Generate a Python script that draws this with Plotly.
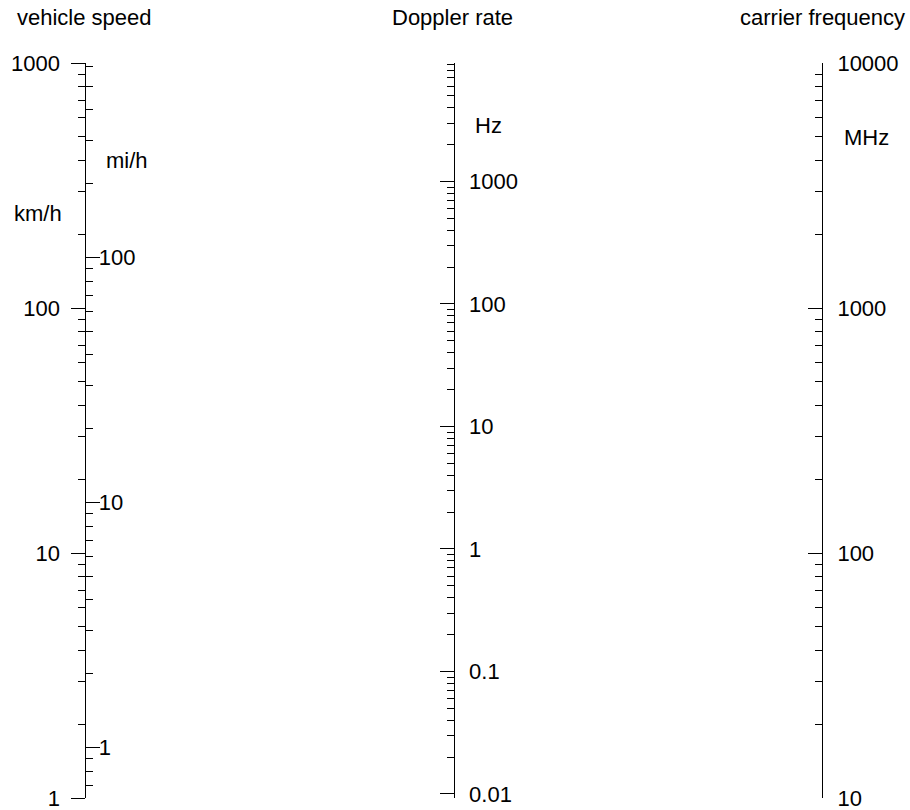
import numpy as np
import plotly.graph_objects as go

# ---- data (scales of the nomogram) ----
speed_kmh_range = [1, 1000]          # km/h
speed_kmh_ticks = [1, 10, 100, 1000]
speed_mph_ticks = [1, 10, 100]
carrier_range = [10, 10000]          # MHz
carrier_ticks = [10, 100, 1000, 10000]
doppler_ticks = [0.01, 0.1, 1, 10, 100, 1000]
KMH_PER_MPH = 1.609344
C_LIGHT = 299792458.0

# derived doppler range: f_d = v * f / c  (v in m/s, f in Hz)
dop_lo = speed_kmh_range[0] / 3.6 * carrier_range[0] * 1e6 / C_LIGHT
dop_hi = speed_kmh_range[1] / 3.6 * carrier_range[1] * 1e6 / C_LIGHT


def minors(lo, hi):
    out = []
    for e in range(int(np.floor(np.log10(lo))) - 1, int(np.ceil(np.log10(hi))) + 1):
        for m in range(2, 10):
            v = m * 10.0 ** e
            if lo <= v <= hi:
                out.append(v)
    return out


W, H = 910, 810
TOP_PX, BOT_PX = 63, 798      # pixel rows of the axis ends
T = TOP_PX
B = H - BOT_PX
FONT = dict(family="Liberation Sans, Arial, sans-serif", size=22, color="black")


def px(xp):
    return xp / W


def py(yp):
    return (BOT_PX - yp) / (BOT_PX - TOP_PX)


x_speed = px(85.3)
x_carr = px(822)
x_dop = (x_speed + x_carr) / 2

fig = go.Figure()
# invisible anchor traces
fig.add_trace(go.Scatter(x=[0, 1], y=speed_kmh_range, yaxis="y", mode="markers",
                         marker=dict(opacity=0), hoverinfo="skip", showlegend=False))
fig.add_trace(go.Scatter(x=[0, 1], y=[v / KMH_PER_MPH for v in speed_kmh_range], yaxis="y2",
                         mode="markers", marker=dict(opacity=0), hoverinfo="skip", showlegend=False))
fig.add_trace(go.Scatter(x=[0, 1], y=[dop_lo, dop_hi], yaxis="y3", mode="markers",
                         marker=dict(opacity=0), hoverinfo="skip", showlegend=False))
fig.add_trace(go.Scatter(x=[0, 1], y=carrier_range, yaxis="y4", mode="markers",
                         marker=dict(opacity=0), hoverinfo="skip", showlegend=False))

common = dict(type="log", showgrid=False, zeroline=False, tickfont=FONT,
              tickcolor="black", tickwidth=1, fixedrange=True,
              ticklabeloverflow="allow")

mph_lo = speed_kmh_range[0] / KMH_PER_MPH
mph_hi = speed_kmh_range[1] / KMH_PER_MPH

fig.update_layout(
    width=W, height=H,
    margin=dict(l=0, r=0, t=T, b=B),
    paper_bgcolor="white", plot_bgcolor="white",
    showlegend=False,
    xaxis=dict(visible=False, range=[0, 1], fixedrange=True),
    yaxis=dict(**common, anchor="free", position=x_speed, side="left",
               range=[np.log10(speed_kmh_range[0]), np.log10(speed_kmh_range[1])],
               showline=True, linecolor="black", linewidth=1,
               ticks="outside", ticklen=14, tickmode="array",
               tickvals=speed_kmh_ticks, ticktext=[str(v) for v in speed_kmh_ticks],
               ticklabelstandoff=7,
               minor=dict(ticks="outside", ticklen=7, tickcolor="black", tickwidth=1,
                          tickmode="array", tickvals=minors(*speed_kmh_range))),
    yaxis2=dict(**common, anchor="free", position=x_speed, side="right", overlaying="y",
                range=[np.log10(mph_lo), np.log10(mph_hi)],
                showline=False,
                ticks="outside", ticklen=14, tickmode="array",
                tickvals=speed_mph_ticks, ticktext=[str(v) for v in speed_mph_ticks],
                ticklabelstandoff=-6,
                minor=dict(ticks="outside", ticklen=7, tickcolor="black", tickwidth=1,
                           tickmode="array", tickvals=minors(mph_lo, mph_hi))),
    yaxis3=dict(**common, anchor="free", position=x_dop, side="right", overlaying="y",
                range=[np.log10(dop_lo), np.log10(dop_hi)],
                showline=True, linecolor="black", linewidth=1,
                ticks="inside", ticklen=14, tickmode="array",
                tickvals=doppler_ticks, ticktext=[f"{v:g}" for v in doppler_ticks],
                ticklabelstandoff=10,
                minor=dict(ticks="inside", ticklen=7, tickcolor="black", tickwidth=1,
                           tickmode="array", tickvals=minors(dop_lo, dop_hi))),
    yaxis4=dict(**common, anchor="free", position=x_carr, side="right", overlaying="y",
                range=[np.log10(carrier_range[0]), np.log10(carrier_range[1])],
                showline=True, linecolor="black", linewidth=1,
                ticks="inside", ticklen=14, tickmode="array",
                tickvals=carrier_ticks, ticktext=[str(v) for v in carrier_ticks],
                ticklabelstandoff=10,
                minor=dict(ticks="inside", ticklen=7, tickcolor="black", tickwidth=1,
                           tickmode="array", tickvals=minors(*carrier_range))),
)

labels = [
    ("vehicle speed", 84, 17),
    ("Doppler rate", 452, 17),
    ("carrier frequency", 822, 17),
    ("km/h", 38, 213),
    ("mi/h", 127, 160),
    ("Hz", 488, 125),
    ("MHz", 866, 137),
]
for txt, x, y in labels:
    fig.add_annotation(text=txt, x=px(x), y=py(y), xref="paper", yref="paper",
                       showarrow=False, font=FONT, xanchor="center", yanchor="middle")

fig.write_html("out.html", config={"displayModeBar": False},
               post_script="document.body.style.margin='0';document.body.style.overflow='hidden';")
